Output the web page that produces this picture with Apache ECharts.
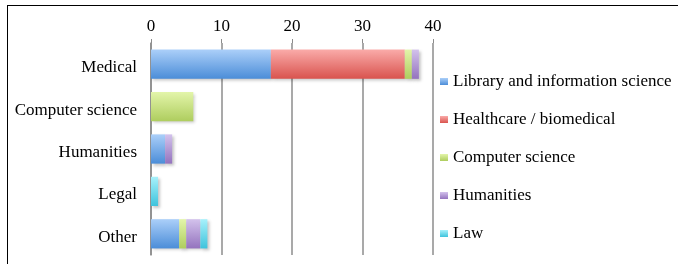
<!DOCTYPE html>
<html>
<head>
<meta charset="utf-8">
<script src="https://cdn.jsdelivr.net/npm/echarts@6/dist/echarts.min.js"></script>
<style>
  html, body { margin: 0; padding: 0; background: #fff; }
  #wrap { position: relative; width: 678px; height: 264px; overflow: hidden; }
  #frame {
    position: absolute; left: 7px; top: 5px; width: 700px; height: 300px;
    border: 1.5px solid #000; box-sizing: border-box;
  }
  #chart { position: absolute; left: 0; top: 0; width: 678px; height: 264px; }
</style>
</head>
<body>
<div id="wrap">
  <div id="frame"></div>
  <div id="chart"></div>
</div>
<script>
// fields (rows, top to bottom)
const categories = ['Medical', 'Computer science', 'Humanities', 'Legal', 'Other']
// stacked segments per field
const libraryInfo = [17, 0, 2, 0, 4]
const healthcare = [19, 0, 0, 0, 0]
const computerSci = [1, 6, 0, 0, 1]
const humanities = [1, 0, 1, 0, 2]
const law = [0, 0, 0, 1, 1]
const xTicks = [0, 10, 20, 30, 40]

// gradient top -> bottom, office-style bars
const palette = {
  'Library and information science': ['#abcff9', '#4b8dd8'],
  'Healthcare / biomedical': ['#faaba9', '#d9534e'],
  'Computer science': ['#e3f5aa', '#aecd5e'],
  'Humanities': ['#d3c2ec', '#9473be'],
  'Law': ['#a8f1fb', '#3ec3dc'],
}

const seriesData = [
  ['Library and information science', libraryInfo],
  ['Healthcare / biomedical', healthcare],
  ['Computer science', computerSci],
  ['Humanities', humanities],
  ['Law', law],
]

const font = 'Liberation Serif, Times New Roman, serif'
const chart = echarts.init(document.getElementById('chart'))

chart.setOption({
  animation: false,
  grid: { left: 151, top: 43, right: 245, bottom: 9, outerBoundsMode: 'none' },
  legend: {
    orient: 'vertical',
    left: 435,
    top: 68,
    itemWidth: 8,
    itemHeight: 7,
    itemGap: 21,
    icon: 'rect',
    textStyle: { fontFamily: font, fontSize: 17, color: '#000', lineHeight: 17 },
    data: seriesData.map(([name]) => name),
  },
  xAxis: {
    type: 'value',
    position: 'top',
    min: xTicks[0],
    max: xTicks[xTicks.length - 1],
    interval: 10,
    axisLine: { show: false },
    axisTick: { show: true, length: 4, lineStyle: { color: '#8c8c8c' } },
    axisLabel: { fontFamily: font, fontSize: 17, color: '#000', margin: 8 },
    splitLine: { lineStyle: { color: '#8c8c8c', width: 1.5 } },
  },
  yAxis: {
    type: 'category',
    inverse: true,
    data: categories,
    axisLine: { lineStyle: { color: '#8c8c8c', width: 1.5 } },
    axisTick: { length: 4, lineStyle: { color: '#8c8c8c' } },
    axisLabel: {
      fontFamily: font, fontSize: 17, color: '#000', margin: 14,
      verticalAlign: 'top', lineHeight: 17, padding: [-5, 0, 0, 0],
    },
  },
  series: seriesData.map(([name, vals]) => ({
    name,
    type: 'bar',
    stack: 'total',
    barCategoryGap: '31%',
    data: vals.map((v) => (v > 0 ? v : null)),
    itemStyle: {
      color: new echarts.graphic.LinearGradient(0, 0, 0, 1, [
        { offset: 0, color: palette[name][0] },
        { offset: 1, color: palette[name][1] },
      ]),
      shadowColor: 'rgba(0,0,0,0.22)',
      shadowBlur: 3,
      shadowOffsetX: 2,
      shadowOffsetY: 2,
    },
  })),
})
</script>
</body>
</html>
